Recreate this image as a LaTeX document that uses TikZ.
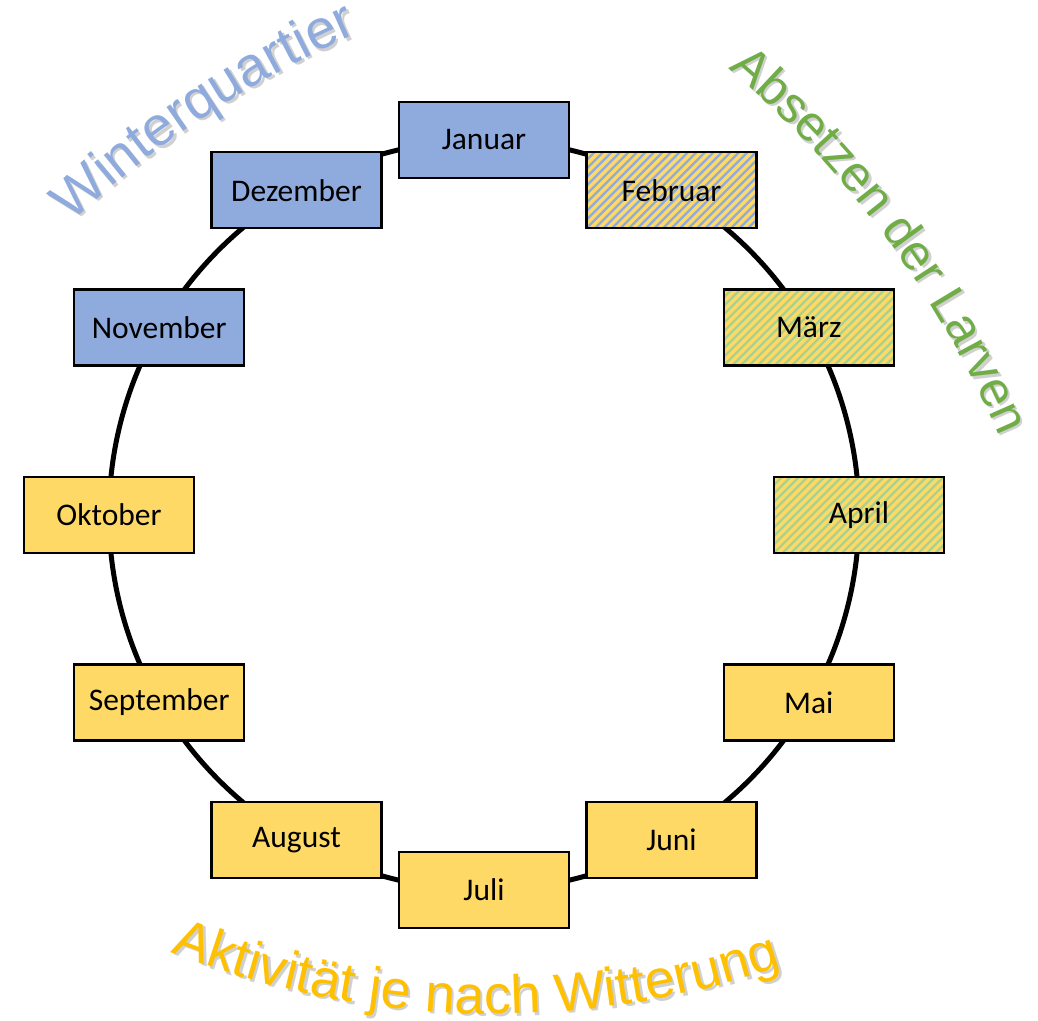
\documentclass[tikz,border=0pt]{standalone}
\usepackage{fontspec}
\setmainfont{Carlito}
\newfontfamily\wafont{Liberation Sans}
\usetikzlibrary{decorations.text}
\definecolor{mblue}{HTML}{8FAADC}
\definecolor{myellow}{HTML}{FFD966}
\definecolor{mgreen}{HTML}{A9D18E}
\definecolor{tgreen}{HTML}{70AD47}
\definecolor{tyellow}{HTML}{FFC000}
\definecolor{tshadow}{HTML}{D0D0D0}
\pgfdeclarelayer{bg}
\pgfsetlayers{bg,main}
\tikzset{
  month/.style={draw=black, line width=2.2pt, minimum width=170pt, minimum height=76pt,
    inner sep=0pt, font=\fontsize{31.5}{36}\selectfont},
  winter/.style={month, fill=mblue},
  active/.style={month, fill=myellow},
  stripes/.style={month, fill=myellow, path picture={
    \foreach \i in {-11,...,21}
      \draw[#1, line width=2.4pt] ([xshift=\i*8.5pt]path picture bounding box.south west) -- ++(85pt,85pt);}},
  febbox/.style={stripes=mblue},
  grnbox/.style={stripes=mgreen},
  ring/.style={line width=5pt, draw=black},
}
% #1 centre, #2 radius, #3 start, #4 end, #5 colour, #6 size, #7 text
\newcommand\myArcText[7]{%
  \path[decorate, decoration={text along path, text align=center,
      text={|\wafont\fontsize{#6}{#6}\selectfont\color{tshadow}|#7}}]
    ([shift={(2.5,-2.5)}]#1) ++(#3:#2) arc[start angle=#3, end angle=#4, radius=#2];
  \path[decorate, decoration={text along path, text align=center,
      text={|\wafont\fontsize{#6}{#6}\selectfont\color{#5}|#7}}]
    (#1) ++(#3:#2) arc[start angle=#3, end angle=#4, radius=#2];
}
\begin{document}
\begin{tikzpicture}[x=1pt, y=1pt]
\useasboundingbox (0,0) rectangle (1038,1020);
\coordinate (ring) at (484,505);
\coordinate (wqc) at (755,73);
\coordinate (abc) at (83,193);
\coordinate (akc) at (495,890);

\node[winter] (jan) at (484,880) {Januar};
\node[febbox] (feb) at (671.5,829.76) {Februar};
\node[grnbox] (mar) at (808.76,692.5) {März};
\node[grnbox] (apr) at (859,505) {April};
\node[active] (mai) at (808.76,317.5) {Mai};
\node[active] (jun) at (671.5,180.24) {Juni};
\node[active] (jul) at (484,130) {Juli};
\node[active] (aug) at (296.5,180.24) {August};
\node[active] (sep) at (159.24,317.5) {September};
\node[active] (okt) at (109,505) {Oktober};
\node[winter] (nov) at (159.24,692.5) {November};
\node[winter] (dez) at (296.5,829.76) {Dezember};

\begin{pgfonlayer}{bg}
\foreach \n [count=\k from 0] in {jan,feb,mar,apr,mai,jun,jul,aug,sep,okt,nov,dez}
  \draw[ring] (\n.center) arc[start angle={90-30*\k}, delta angle=-30, radius=375];
\end{pgfonlayer}

\myArcText{wqc}{996}{143.4}{103.4}{mblue}{55}{Winterquartier}
\myArcText{abc}{996}{56.35}{16.35}{tgreen}{50}{Absetzen der Larven}
\myArcText{akc}{884}{-116.3}{-66.3}{tyellow}{54}{Aktivität je nach Witterung}
\end{tikzpicture}
\end{document}
